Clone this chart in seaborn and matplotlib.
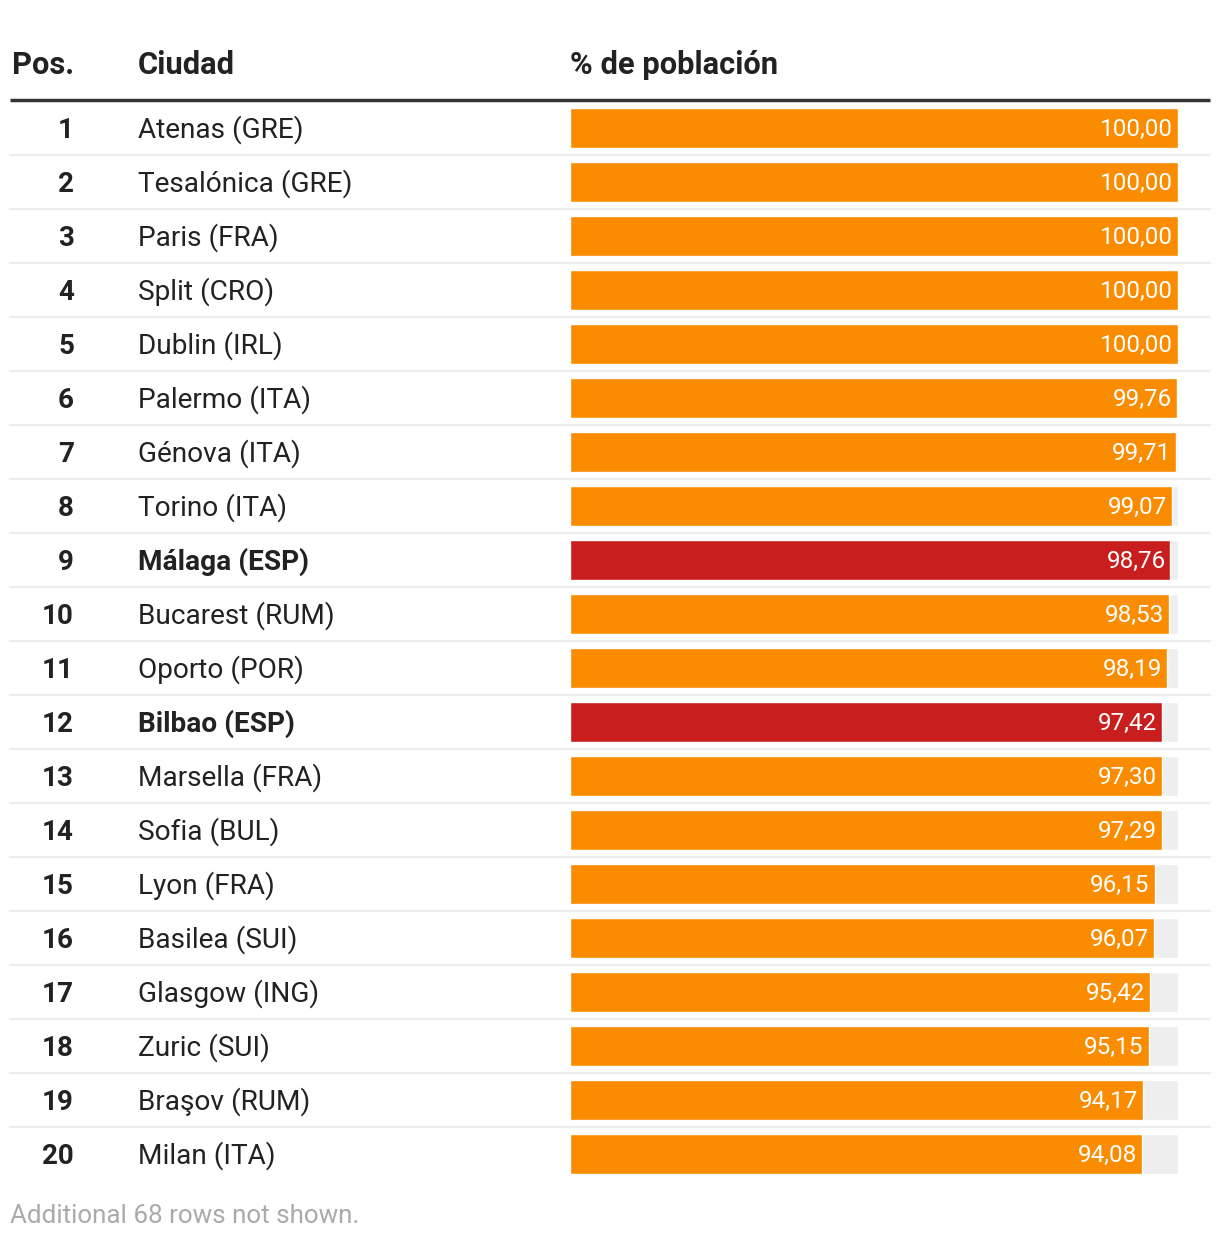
import matplotlib
matplotlib.use("Agg")
import matplotlib.pyplot as plt
from matplotlib.transforms import blended_transform_factory, offset_copy
from matplotlib.lines import Line2D
import seaborn as sns
import pandas as pd

positions = list(range(1, 21))
cities = ["Atenas (GRE)", "Tesalónica (GRE)", "Paris (FRA)", "Split (CRO)", "Dublin (IRL)",
          "Palermo (ITA)", "Génova (ITA)", "Torino (ITA)", "Málaga (ESP)", "Bucarest (RUM)",
          "Oporto (POR)", "Bilbao (ESP)", "Marsella (FRA)", "Sofia (BUL)", "Lyon (FRA)",
          "Basilea (SUI)", "Glasgow (ING)", "Zuric (SUI)", "Braşov (RUM)", "Milan (ITA)"]
values = [100.00, 100.00, 100.00, 100.00, 100.00, 99.76, 99.71, 99.07, 98.76, 98.53,
          98.19, 97.42, 97.30, 97.29, 96.15, 96.07, 95.42, 95.15, 94.17, 94.08]
highlight = [c.endswith("(ESP)") for c in cities]
max_value = [100.0] * 20
headers = ["Pos.", "Ciudad", "% de población"]
footer = "Additional 68 rows not shown."

sns.set_theme(style="white")
plt.rcParams['font.family'] = ['Roboto', 'DejaVu Sans']

W, H = 1220, 1240
fig = plt.figure(figsize=(W / 100, H / 100), dpi=100)
fig.patch.set_facecolor("white")

row_h = 54
top_row_center = 128
ax_top = top_row_center - row_h / 2
ax_bottom = top_row_center + row_h * 19 + row_h / 2
ax = fig.add_axes([570 / W, 1 - ax_bottom / H, 608 / W, (ax_bottom - ax_top) / H])

df = pd.DataFrame({"city": cities, "value": values, "max": max_value,
                   "group": ["ESP" if h else "other" for h in highlight]})

bw = 40 / 54
sns.barplot(data=df, y="city", x="max", color="#eeeeee", width=bw, ax=ax,
            saturation=1, orient="h")
sns.barplot(data=df, y="city", x="value", hue="group",
            palette={"ESP": "#c81e1e", "other": "#f98c00"}, width=bw, ax=ax,
            saturation=1, orient="h", legend=False, dodge=False)

ax.set_xlim(0, 100)
ax.set_ylim(19.5, -0.5)
ax.axis("off")

for i, v in enumerate(values):
    ax.annotate(f"{v:.2f}".replace(".", ","), xy=(v, i), xytext=(-3.5, -1),
                textcoords="offset points", ha="right", va="center",
                color="white", fontsize=17.5)

tr = blended_transform_factory(fig.transFigure, ax.transData)
tr_txt = offset_copy(tr, fig=fig, x=0, y=-1.5, units="points")
for i, (p, c, h) in enumerate(zip(positions, cities, highlight)):
    fig.text(74 / W, i, str(p), transform=tr_txt, ha="right", va="center",
             fontsize=20, fontweight="bold", color="#222222")
    fig.text(138 / W, i, c, transform=tr_txt, ha="left", va="center",
             fontsize=20.2, fontweight="bold" if h else "normal", color="#222222")
    if i < 19:
        fig.add_artist(Line2D([10 / W, 1210 / W], [i + 0.5, i + 0.5], transform=tr,
                              color="#ececec", lw=1.5))

fig.add_artist(Line2D([10 / W, 1210 / W], [1 - 100 / H, 1 - 100 / H],
                      transform=fig.transFigure, color="#333333", lw=2.5,
                      solid_capstyle="butt"))

hy = 1 - 65 / H
for x, t in zip([12, 138, 570], headers):
    fig.text(x / W, hy, t, ha="left", va="center", fontsize=22.2,
             fontweight="bold", color="#222222")

fig.text(10 / W, 1 - 1216 / H, footer, ha="left", va="center", fontsize=18.7,
         color="#aaaaaa")

fig.savefig("out.png", dpi=100, facecolor="white")
